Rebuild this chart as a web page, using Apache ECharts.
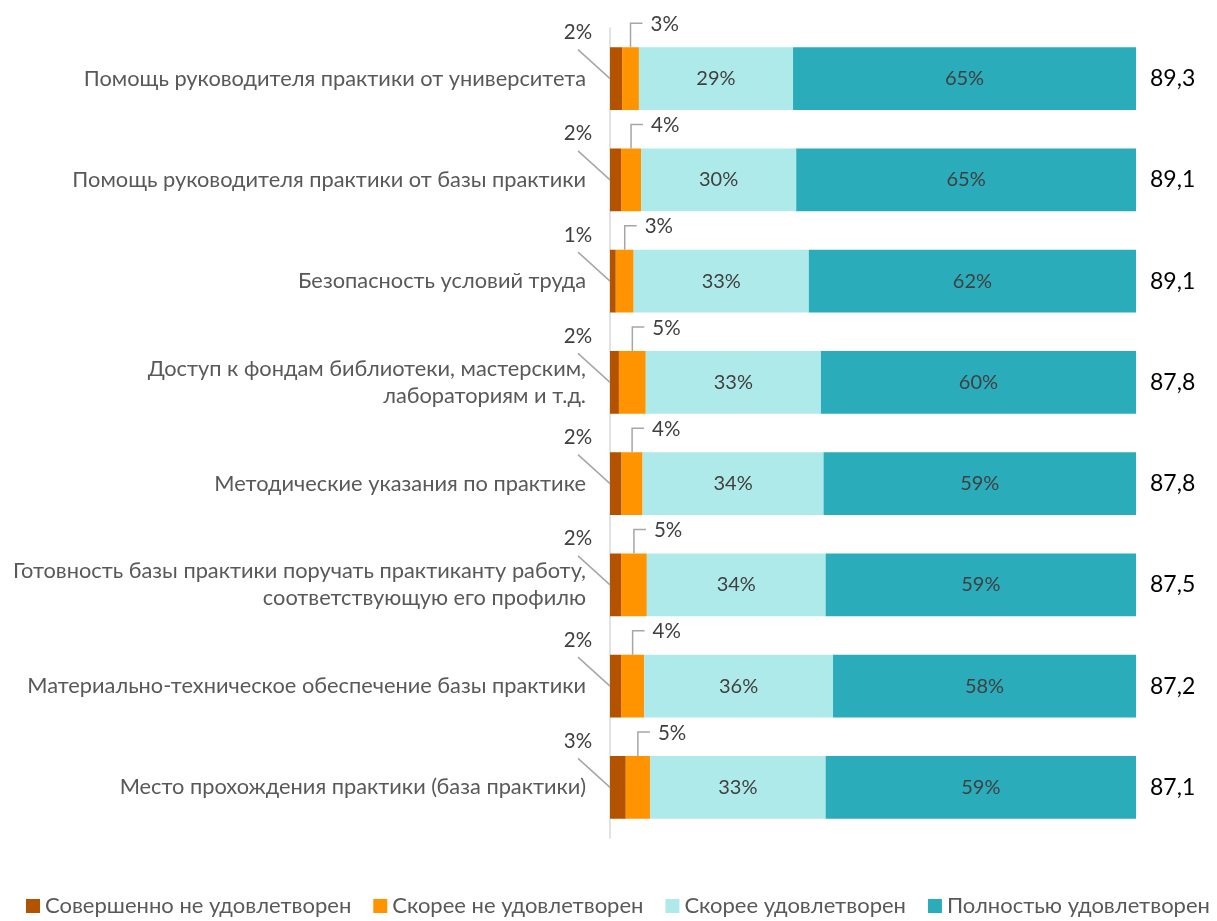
<!DOCTYPE html>
<html>
<head>
<meta charset="utf-8">
<script src="https://cdn.jsdelivr.net/npm/echarts@6/dist/echarts.min.js"></script>
<style>
  html, body { margin: 0; padding: 0; background: #fff; }
  #chart { width: 1217px; height: 921px; }
</style>
</head>
<body>
<div id="chart"></div>
<script>
// категории (сверху вниз)
const categories = [
  'Помощь руководителя практики от университета',
  'Помощь руководителя практики от базы практики',
  'Безопасность условий труда',
  'Доступ к фондам библиотеки, мастерским,\nлабораториям и т.д.',
  'Методические указания по практике',
  'Готовность базы практики поручать практиканту работу,\nсоответствующую его профилю',
  'Материально-техническое обеспечение базы практики',
  'Место прохождения практики (база практики)'
]
// средний балл справа
const scores = ['89,3', '89,1', '89,1', '87,8', '87,8', '87,5', '87,2', '87,1']

// доли ответов, %
const notSatisfied = [2.3, 2.1, 1.1, 1.7, 2.2, 2.1, 2.1, 3.0]
const ratherNot = [3.2, 3.8, 3.4, 5.1, 4.0, 4.9, 4.4, 4.6]
const ratherYes = [29.3, 29.5, 33.3, 33.3, 34.4, 34.0, 35.9, 33.4]
const fully = [65.2, 64.6, 62.2, 59.9, 59.4, 59.0, 57.6, 59.0]

const seriesNames = ['Совершенно не удовлетворен', 'Скорее не удовлетворен', 'Скорее удовлетворен', 'Полностью удовлетворен']
const colors = ['#B35300', '#FF9400', '#AFEAEA', '#2AACBB']

const FONT = 'Lato, "Open Sans", sans-serif'
const lineColor = '#A6A6A6'

const chart = echarts.init(document.getElementById('chart'))

const pct = v => Math.round(v) + '%'

function barSeries (name, data, idx, showInside) {
  return {
    name: name,
    type: 'bar',
    stack: 'total',
    yAxisIndex: 0,
    barCategoryGap: '38%',
    data: data,
    itemStyle: { color: colors[idx] },
    label: {
      show: showInside,
      position: 'inside',
      color: '#404040',
      fontSize: 20,
      fontFamily: FONT,
      formatter: p => pct(p.value)
    },
    emphasis: { disabled: true }
  }
}

// подписи малых долей с выносками
const darkLabels = {
  type: 'custom',
  yAxisIndex: 0,
  silent: true,
  data: notSatisfied.map((v, i) => [v, i]),
  renderItem (params, api) {
    const v = api.value(0)
    const i = api.value(1)
    const p = api.coord([0, i])
    return {
      type: 'group',
      children: [
        { type: 'line', shape: { x1: p[0] - 32, y1: p[1] - 29, x2: p[0], y2: p[1] }, style: { stroke: lineColor, lineWidth: 1.5 } },
        { type: 'text', style: { text: pct(v), x: p[0] - 32, y: p[1] - 46, align: 'center', verticalAlign: 'middle', fill: '#404040', font: '20.5px ' + FONT } }
      ]
    }
  }
}

const orangeLabels = {
  type: 'custom',
  yAxisIndex: 0,
  silent: true,
  data: ratherNot.map((v, i) => [notSatisfied[i] + v / 2, i, v]),
  renderItem (params, api) {
    const i = api.value(1)
    const p = api.coord([api.value(0), i])
    const barH = api.size([0, 1])[1] * 0.62
    const top = p[1] - barH / 2
    return {
      type: 'group',
      children: [
        { type: 'polyline', shape: { points: [[p[0], top], [p[0], top - 24], [p[0] + 12, top - 24]] }, style: { stroke: lineColor, lineWidth: 1.5, fill: null } },
        { type: 'text', style: { text: pct(api.value(2)), x: p[0] + 20, y: top - 23, align: 'left', verticalAlign: 'middle', fill: '#404040', font: '20.5px ' + FONT } }
      ]
    }
  }
}

const option = {
  animation: false,
  color: colors,
  legend: {
    data: seriesNames,
    bottom: 4,
    left: 26,
    right: 0,
    padding: 0,
    icon: 'rect',
    itemWidth: 14,
    itemHeight: 14,
    itemGap: 22,
    textStyle: { color: '#595959', fontSize: 22, fontFamily: FONT }
  },
  grid: { left: 610, right: 81, top: 28, bottom: 83 },
  xAxis: {
    type: 'value',
    min: 0,
    max: 100,
    show: false
  },
  yAxis: [
    {
      type: 'category',
      inverse: true,
      data: categories,
      axisTick: { show: false },
      axisLine: { lineStyle: { color: '#D9D9D9', width: 1.5 } },
      axisLabel: { margin: 24, color: '#595959', fontSize: 21.8, fontFamily: FONT, lineHeight: 27, align: 'right' }
    },
    {
      type: 'category',
      inverse: true,
      position: 'right',
      data: scores,
      axisTick: { show: false },
      axisLine: { show: false },
      axisLabel: { margin: 14, color: '#000', fontSize: 23, fontFamily: FONT }
    }
  ],
  series: [
    barSeries(seriesNames[0], notSatisfied, 0, false),
    barSeries(seriesNames[1], ratherNot, 1, false),
    barSeries(seriesNames[2], ratherYes, 2, true),
    barSeries(seriesNames[3], fully, 3, true),
    darkLabels,
    orangeLabels
  ]
}

chart.setOption(option)
</script>
</body>
</html>
